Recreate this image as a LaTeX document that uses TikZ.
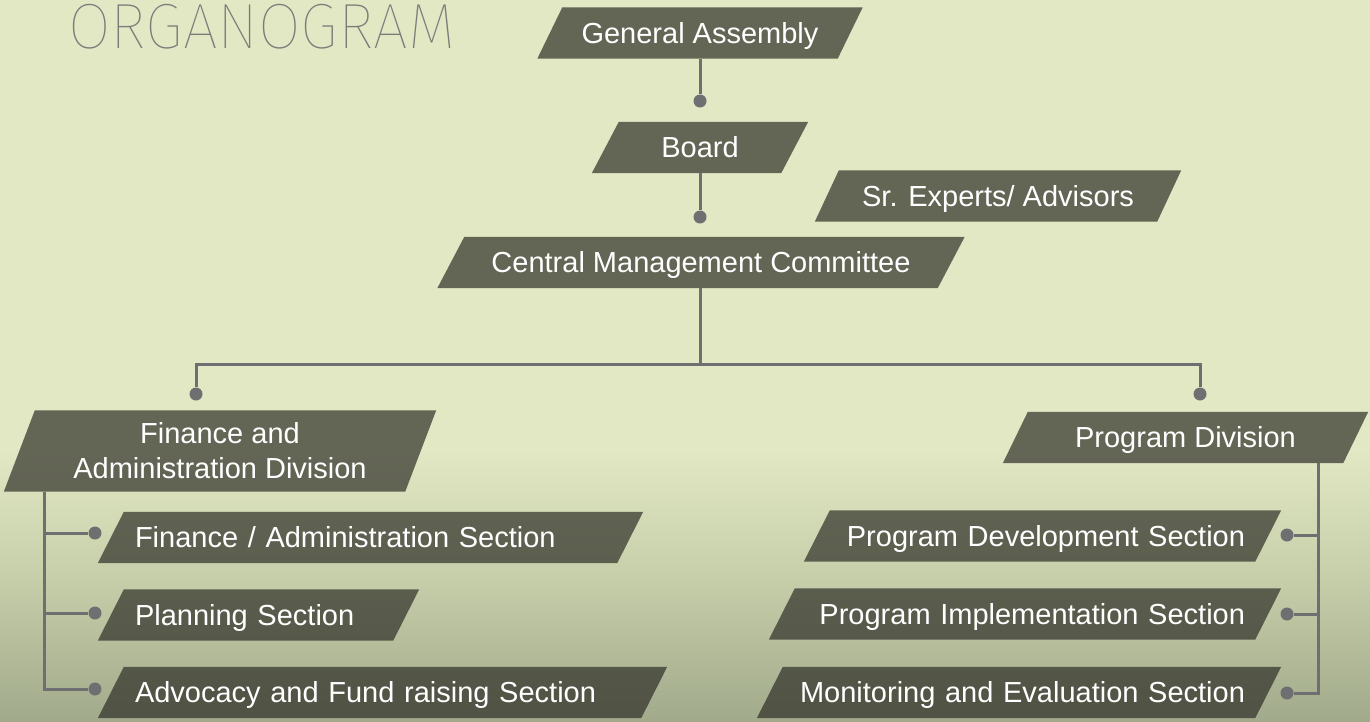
\documentclass[tikz,border=0pt]{standalone}
\usepackage{fontspec}
\setmainfont{Liberation Sans}
\IfFontExistsTF{Fira Sans Thin}{\newfontfamily\titlefont{Fira Sans Thin}[FakeStretch=0.965]}{%
 \IfFontExistsTF{Fira Sans ExtraLight}{\newfontfamily\titlefont{Fira Sans ExtraLight}[FakeStretch=0.965]}{%
  \IfFontExistsTF{Fira Sans Light}{\newfontfamily\titlefont{Fira Sans Light}[FakeStretch=0.965]}{%
   \IfFontExistsTF{Lato Light}{\newfontfamily\titlefont{Lato Light}}{%
    \newfontfamily\titlefont{Liberation Sans}}}}}
\usetikzlibrary{positioning,calc}
\pgfdeclarelayer{back}
\pgfdeclarelayer{boxes}
\pgfsetlayers{back,boxes,main}
\hyphenpenalty=10000

\definecolor{bgc}{HTML}{E2E8C4}
\definecolor{midgrass}{HTML}{C6CDA9}
\definecolor{grass}{HTML}{A1AA8B}
\definecolor{boxc}{HTML}{2E2E27}
\definecolor{linec}{HTML}{6E6F71}
\definecolor{titlec}{HTML}{7B7C7A}

\tikzset{
  base/.style={minimum height=51, inner ysep=0, text=white,
               font=\fontsize{29}{35}\selectfont},
  unit/.style={base, text height=20.5, text depth=0},
  secl/.style={unit, inner xsep=37, text width=#1, align=left},
  secr/.style={unit, inner xsep=36, text width=#1, align=right},
  dot/.style={circle, fill=linec, inner sep=0, minimum size=13},
  wire/.style={draw=linec, line width=3},
}

\begin{document}
\begin{tikzpicture}[x=1pt,y=-1pt]
\useasboundingbox (0,0) rectangle (1370,721);
\begin{pgfonlayer}{back}
\fill[bgc] (0,0) rectangle (1370,721);
\fill[top color=bgc, bottom color=midgrass] (0,450) rectangle (1370,581);
\fill[top color=midgrass, bottom color=grass] (0,580) rectangle (1370,721);
\end{pgfonlayer}

\node[font=\titlefont\fontsize{64}{64}\selectfont, text=titlec,
      anchor=base west, inner sep=0] (title) at (68,48) {ORGANOGRAM};

% top of the chart
\node[unit, minimum width=325] (ga) at (700,33) {General Assembly};
\node[dot] (d1) at (700,101) {};
\node[unit, minimum width=216] (board) at (700,147.5) {Board};
\node[dot] (d2) at (700,217) {};
\node[unit, minimum width=366] (sr) at (998,196) {Sr. Experts/ Advisors};
\node[unit, minimum width=527] (cmc) at (701,262.5) {Central Management Committee};

% divisions
\node[dot] (dl) at (196,394) {};
\node[dot] (dr) at (1200,394) {};
\node[base, minimum width=432, minimum height=81, align=center] (fad) at (220,451)
  {Finance and\\Administration Division};
\node[unit, minimum width=365] (pd) at (1185.5,437.5) {Program Division};

% sections
\node[secl=471] (fas) at (370.5,537.5) {Finance~/ Administration~Section};
\node[secl=247] (pls) at (258.5,615) {Planning~Section};
\node[secl=495] (afs) at (382.5,692.5) {Advocacy~and~Fund~raising~Section};
\node[secr=405] (pds) at (1042.5,536) {Program~Development~Section};
\node[secr=440] (pis) at (1025,614) {Program~Implementation~Section};
\node[secr=452] (mes) at (1019,692.5) {Monitoring~and~Evaluation~Section};

\node[dot] (dfa) at (95,533) {};
\node[dot] (dpl) at (95,613) {};
\node[dot] (dad) at (95,689) {};
\node[dot] (dpd) at (1287,535) {};
\node[dot] (dpi) at (1287,614) {};
\node[dot] (dme) at (1287,693) {};

\begin{pgfonlayer}{boxes}
\foreach \n/\o in {ga/25,board/27,sr/24,cmc/27,fad/31,pd/25,
                   fas/26,pls/26,afs/26,pds/26,pis/26,mes/26}
  \fill[boxc, fill opacity=0.7] (\n.south west) -- ([xshift=\o]\n.north west)
    -- (\n.north east) -- ([xshift=-\o]\n.south east) -- cycle;
\end{pgfonlayer}

% connectors
\draw[wire] (ga) -- (d1);
\draw[wire] (board) -- (d2);
\coordinate (hub) at (700,364);
\draw[wire] (cmc.south -| hub) -- (hub);
\draw[wire] (dl) |- (hub) -| (dr);
\coordinate (lt) at ([xshift=41]fad.south west);
\draw[wire] (lt) |- (dfa);
\draw[wire] (lt) |- (dpl);
\draw[wire] (lt) |- (dad);
\coordinate (rt) at ([xshift=-50]pd.south east);
\draw[wire] (rt) |- (dpd);
\draw[wire] (rt) |- (dpi);
\draw[wire] (rt) |- (dme);
\end{tikzpicture}
\end{document}
